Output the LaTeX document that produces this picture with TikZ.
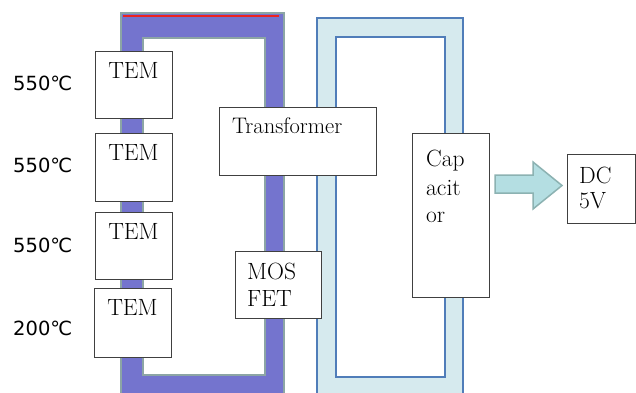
\documentclass[tikz,border=0pt]{standalone}
\usepackage{fontspec}
\newfontfamily\tempfont{DejaVu Sans}
\definecolor{loopfill}{RGB}{116,116,206}
\definecolor{loopedge}{RGB}{140,165,165}
\definecolor{capfill}{RGB}{214,234,238}
\definecolor{capedge}{RGB}{80,125,185}
\definecolor{arrowfill}{RGB}{180,222,226}
\definecolor{arrowedge}{RGB}{140,178,178}
\definecolor{topred}{RGB}{235,35,35}
\begin{document}
\begin{tikzpicture}[x=1pt,y=-1pt,
  box/.style={draw=black!75, line width=0.8pt, fill=white, anchor=north west, inner sep=0pt},
  txt/.style={font=\fontsize{23.5}{28}\selectfont, inner sep=0pt},
  temp/.style={font=\tempfont\fontsize{19.5}{22}\selectfont, inner sep=0pt, anchor=base west}]
\useasboundingbox (0,0) rectangle (636,392);
\fill[white] (0,0) rectangle (636,392);
% purple loop
\path[fill=loopfill, draw=loopedge, line width=2pt, even odd rule]
  (121,13) rectangle (284,400) (143,38) rectangle (265,375);
\draw[topred, line width=1.8pt] (123,16) -- (279,16);
% light blue loop
\path[fill=capfill, draw=capedge, line width=1.1pt, even odd rule]
  (317,18) rectangle (463,400) (336,37) rectangle (445,377);
% TEM boxes
\node[box, minimum width=77pt, minimum height=67pt] (tem1) at (95,51) {};
\node[box, minimum width=77pt, minimum height=68pt] (tem2) at (95,133) {};
\node[box, minimum width=77pt, minimum height=67pt] (tem3) at (95,212) {};
\node[box, minimum width=77pt, minimum height=69pt] (tem4) at (94,288) {};
\node[txt, anchor=base] (tem1t) at (133.5,78) {TEM};
\node[txt, anchor=base] (tem2t) at (133.5,160) {TEM};
\node[txt, anchor=base] (tem3t) at (133.5,239) {TEM};
\node[txt, anchor=base] (tem4t) at (132.5,315) {TEM};
% temperatures
\node[temp] (t1) at (13,90) {550℃};
\node[temp] (t2) at (13,172) {550℃};
\node[temp] (t3) at (13,252) {550℃};
\node[temp] (t4) at (13,335) {200℃};
% transformer
\node[box, minimum width=157pt, minimum height=68pt] (tr) at (219,107) {};
\node[txt, anchor=base west, font=\fontsize{22.5}{26}\selectfont] (trt) at (232,133) {Transformer};
% MOSFET
\node[box, minimum width=86pt, minimum height=67pt] (mos) at (235,251) {};
\node[txt, anchor=base west] (mos1) at (247,279) {MOS};
\node[txt, anchor=base west] (mos2) at (247,306) {FET};
% capacitor
\node[box, minimum width=77pt, minimum height=164pt] (cap) at (412,133) {};
\node[txt, anchor=base west] (cap1) at (426,166) {Cap};
\node[txt, anchor=base west] (cap2) at (426,195) {acit};
\node[txt, anchor=base west] (cap3) at (426,222) {or};
% block arrow
\draw[fill=arrowfill, draw=arrowedge, line width=1.5pt, line join=miter]
  (495,175) -- (533,175) -- (533,162) -- (562,185.5) -- (533,209) -- (533,193) -- (495,193) -- cycle;
% DC 5V
\node[box, minimum width=68pt, minimum height=69pt] (dc) at (567,154) {};
\node[txt, anchor=base west] (dc1) at (579,183) {DC};
\node[txt, anchor=base west] (dc2) at (579,208) {5V};
\end{tikzpicture}
\end{document}
